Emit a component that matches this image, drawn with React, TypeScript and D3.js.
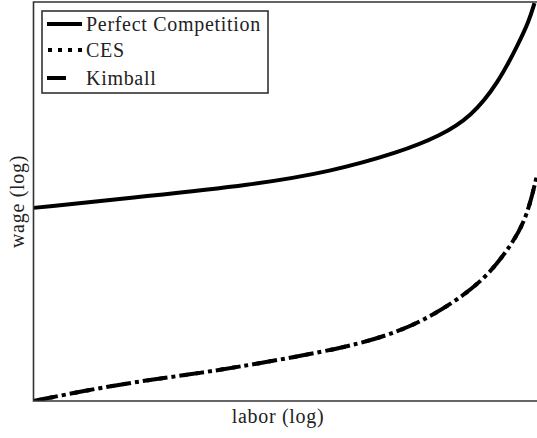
import React from "react";
import * as d3 from "d3";

// Labor (normalized log scale) sample points
const laborPC = [0, 0.231, 0.43, 0.589, 0.728, 0.807, 0.869, 0.923, 0.963, 0.984, 0.995];
// Wage under perfect competition (normalized log scale)
const wagePC = [0.484, 0.514, 0.541, 0.574, 0.624, 0.664, 0.712, 0.797, 0.895, 0.952, 0.997];

const laborMP = [0, 0.131, 0.231, 0.33, 0.429, 0.628, 0.728, 0.787, 0.841, 0.901, 0.952, 0.98, 1.0];
// Wage with labor-market power (CES and Kimball coincide here)
const wageCES = [0, 0.033, 0.053, 0.07, 0.09, 0.135, 0.175, 0.211, 0.253, 0.311, 0.396, 0.461, 0.566];
const wageKimball = [0, 0.033, 0.053, 0.07, 0.09, 0.135, 0.175, 0.211, 0.253, 0.311, 0.396, 0.461, 0.566];

const legendLabels = ["Perfect Competition", "CES", "Kimball"];
const xLabel = "labor (log)";
const yLabel = "wage (log)";

const W = 537;
const H = 438;
const left = 33.5;
const top = 2;
const right = 537;
const bottom = 401;

const FONT = "Liberation Serif, DejaVu Serif, serif";

export default function App() {
  const x = d3.scaleLinear().domain([0, 1]).range([left, right]);
  const y = d3.scaleLinear().domain([0, 1]).range([bottom, top]);
  const line = d3
    .line<[number, number]>()
    .x((d) => x(d[0]))
    .y((d) => y(d[1]))
    .curve(d3.curveBasis);

  const pc = line(laborPC.map((l, i) => [l, wagePC[i]]))!;
  const ces = line(laborMP.map((l, i) => [l, wageCES[i]]))!;
  const kim = line(laborMP.map((l, i) => [l, wageKimball[i]]))!;

  const legendY = [24, 50, 78];
  const textStyle = { fontFamily: FONT, fontSize: 20, letterSpacing: 0.7 };

  return (
    <svg
      width={W}
      height={H}
      style={{ position: "fixed", left: 0, top: 0, display: "block", background: "#fff" }}
    >
      <defs>
        <clipPath id="plotArea">
          <rect x={left} y={top} width={right - left + 20} height={bottom - top} />
        </clipPath>
      </defs>
      <g clipPath="url(#plotArea)" fill="none" stroke="#000" strokeWidth={4}>
        <path d={pc} />
        <path d={kim} strokeDasharray="25 12" />
        <path d={ces} strokeDasharray="4 8.333" strokeDashoffset={8} />
      </g>
      {/* axes frame */}
      <path
        d={`M${right + 5},${top} H${left} V${bottom} H${right + 5}`}
        fill="none"
        stroke="#333"
        strokeWidth={1.6}
      />
      {/* legend */}
      <g>
        <rect x={42} y={11} width={226} height={82} fill="#fff" stroke="#333" strokeWidth={1.6} />
        <line x1={47} x2={82} y1={legendY[0]} y2={legendY[0]} stroke="#000" strokeWidth={4} />
        <line
          x1={48}
          x2={82}
          y1={legendY[1]}
          y2={legendY[1]}
          stroke="#000"
          strokeWidth={4}
          strokeDasharray="4 6"
        />
        <line x1={47} x2={66} y1={legendY[2]} y2={legendY[2]} stroke="#000" strokeWidth={4} />
        {legendLabels.map((t, i) => (
          <text key={t} x={86} y={legendY[i] + 6.5} style={textStyle} fill="#222">
            {t}
          </text>
        ))}
      </g>
      <text x={278} y={423} textAnchor="middle" style={textStyle} fill="#222">
        {xLabel}
      </text>
      <text
        transform={`translate(24, ${(top + bottom) / 2}) rotate(-90)`}
        textAnchor="middle"
        style={textStyle}
        fill="#222"
      >
        {yLabel}
      </text>
    </svg>
  );
}
